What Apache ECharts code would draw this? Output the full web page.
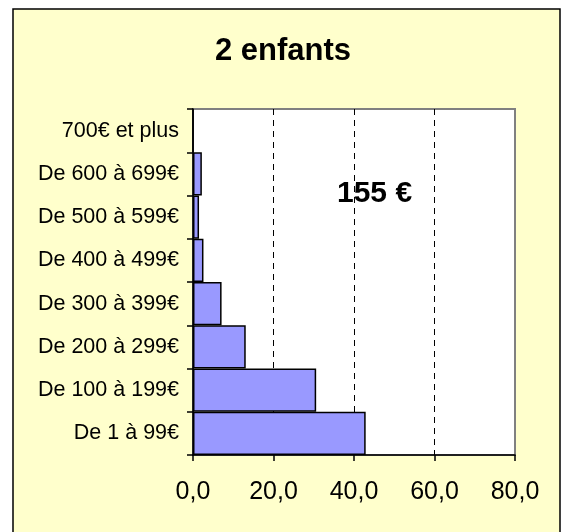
<!DOCTYPE html>
<html>
<head>
<meta charset="utf-8">
<script src="https://cdn.jsdelivr.net/npm/echarts@6/dist/echarts.min.js"></script>
<style>
  html, body { margin: 0; padding: 0; background: #fff; }
  #chart { width: 566px; height: 532px; }
</style>
</head>
<body>
<div id="chart"></div>
<script>
// tranches de budget, du bas vers le haut
const categories = ['De 1 à 99€', 'De 100 à 199€', 'De 200 à 299€', 'De 300 à 399€',
  'De 400 à 499€', 'De 500 à 599€', 'De 600 à 699€', '700€ et plus'];
const values = [42.9, 30.6, 13.1, 7.1, 2.6, 1.5, 2.2, 0];
const xTicks = [0, 20, 40, 60, 80];
const titleText = '2 enfants';
const meanText = '155 €';

const myChart = echarts.init(document.getElementById('chart'));

const option = {
  backgroundColor: '#ffffff',
  animation: false,
  textStyle: { fontFamily: 'Liberation Sans, Arial, sans-serif' },
  graphic: [{
    type: 'rect',
    z: -10,
    shape: { x: 13, y: 9, width: 547, height: 540 },
    style: { fill: '#ffffcc', stroke: '#000', lineWidth: 1.5 }
  }],
  title: [{
    text: titleText,
    left: 'center',
    top: 31,
    textStyle: { fontSize: 31, fontWeight: 'bold', color: '#000' }
  }, {
    text: meanText,
    left: 332,
    top: 174,
    textStyle: { fontSize: 30, fontWeight: 'bold', color: '#000' }
  }],
  grid: {
    left: 193,
    top: 109,
    right: 51,
    bottom: 77,
    show: true,
    backgroundColor: '#ffffff',
    borderColor: '#808080',
    borderWidth: 2
  },
  xAxis: {
    type: 'value',
    min: xTicks[0],
    max: xTicks[xTicks.length - 1],
    interval: 20,
    axisLine: { show: true, lineStyle: { color: '#000', width: 1.5 } },
    axisTick: { show: true, length: 6, lineStyle: { color: '#000', width: 1.5 } },
    axisLabel: {
      fontSize: 25,
      color: '#000',
      margin: 25,
      formatter: v => v.toFixed(1).replace('.', ',')
    },
    splitLine: {
      show: true,
      showMinLine: false,
      showMaxLine: false,
      lineStyle: { color: '#000', type: [6, 5], width: 1 }
    }
  },
  yAxis: {
    type: 'category',
    data: categories,
    axisLine: { show: true, lineStyle: { color: '#000', width: 1.5 } },
    axisTick: { show: true, length: 6, lineStyle: { color: '#000', width: 1.5 } },
    axisLabel: { fontSize: 21.5, color: '#000', margin: 14 },
    splitLine: { show: false }
  },
  series: [{
    type: 'bar',
    data: values,
    barCategoryGap: 0,
    itemStyle: { color: '#9999ff', borderColor: '#000', borderWidth: 1.5 }
  }]
};

myChart.setOption(option);
window.addEventListener('resize', () => myChart.resize());
</script>
</body>
</html>
